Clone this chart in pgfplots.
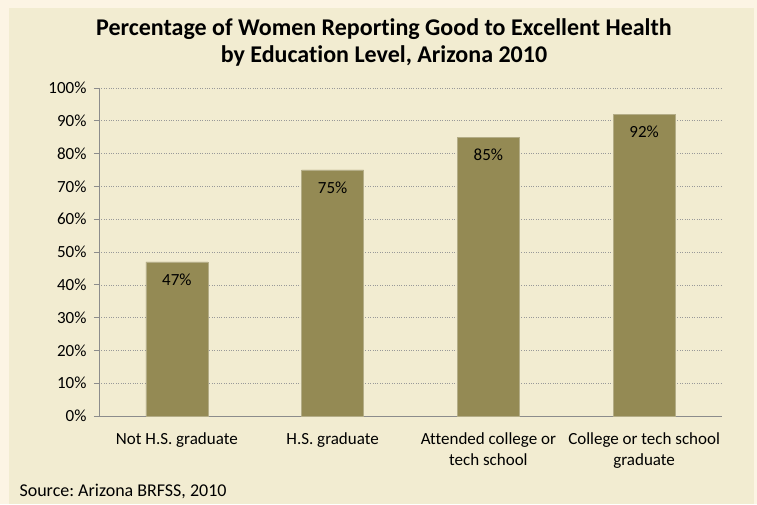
\documentclass[border=0pt]{standalone}
\usepackage{pgfplots}
\pgfplotsset{compat=1.18}
\usepackage{fontspec}
\setmainfont{Carlito}[Ligatures={NoCommon}]
\frenchspacing
\definecolor{outerbg}{HTML}{FCF4E4}
\definecolor{innerbg}{HTML}{F2ECD1}
\definecolor{barc}{HTML}{948A54}
\definecolor{axisc}{HTML}{8C8C8C}
\begin{document}
\begin{tikzpicture}[x=1pt,y=1pt]
\fill[outerbg] (0,0) rectangle (757,504);
\fill[innerbg] (9,0) rectangle (754,496);
\node[font=\fontsize{24}{26.5}\selectfont\bfseries, align=center] at (384,461.5) {Percentage of Women Reporting Good to Excellent Health\\by Education Level, Arizona 2010};
\node[font=\fontsize{18}{20}\selectfont, anchor=west] at (16,13) {Source: Arizona BRFSS, 2010};
\begin{axis}[
  at={(99pt,88pt)}, anchor=south west,
  scale only axis, width=623pt, height=328pt,
  xmin=-0.5, xmax=3.5, ymin=0, ymax=100,
  ybar, bar width=62pt,
  xtick={0,1,2,3},
  xticklabels={Not H.S. graduate, H.S. graduate, {Attended college or\\tech school}, {College or tech school\\graduate}},
  xticklabel style={align=center, font=\fontsize{17}{21}\selectfont, yshift=-8pt},
  extra x ticks={-0.5,0.5,1.5,2.5,3.5},
  extra x tick labels={},
  extra x tick style={major tick length=6pt, tick style={axisc, line width=0.8pt}, tick pos=lower, xtick align=outside, grid=none},
  x tick style={draw=none},
  ytick={0,10,...,100},
  yticklabel={\pgfmathprintnumber{\tick}\%},
  yticklabel style={font=\fontsize{17}{20}\selectfont, xshift=-4pt},
  /pgf/number format/assume math mode=true,
  y tick style={axisc, line width=0.8pt},
  ytick align=outside, major tick length=5pt,
  ytick pos=left,
  ymajorgrids, major grid style={dotted, color=gray!80, line width=0.6pt},
  axis x line*=bottom, axis y line*=left,
  axis line style={axisc, line width=0.8pt},
  nodes near coords={\pgfmathprintnumber{\pgfplotspointmeta}\%},
  every node near coord/.append style={anchor=north, yshift=-8pt, font=\fontsize{17}{20}\selectfont, color=black},
]
\addplot[fill=barc, draw=barc!70!white, line width=0.6pt] coordinates {(0,47) (1,75) (2,85) (3,92)};
\end{axis}
\end{tikzpicture}
\end{document}
